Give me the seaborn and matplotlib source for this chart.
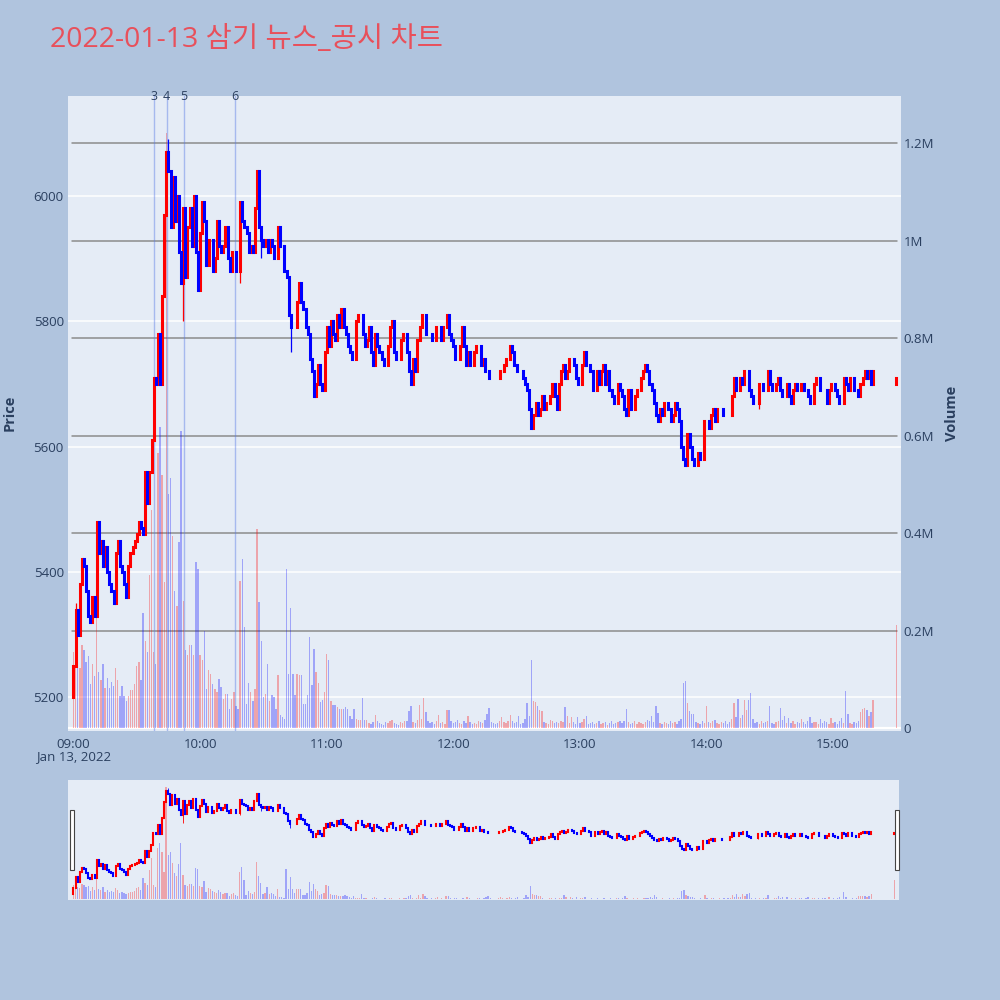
import numpy as np
import pandas as pd
import seaborn as sns
import matplotlib.pyplot as plt
import matplotlib.transforms as mtransforms
from matplotlib.patches import Rectangle

# chart data (1-minute candles from 09:00, plus the 15:30 closing auction)
TITLE = "2022-01-13 삼기 뉴스_공시 차트"
first_open = 5200
close_px = [
    5250, 5340, 5300, 5380, 5420, 5410, 5370, 5330, 5320, 5360,
    5330, 5480, 5430, 5450, 5410, 5440, 5400, 5380, 5370, 5350,
    5430, 5450, 5410, 5400, 5380, 5360, 5410, 5430, 5440, 5450,
    5460, 5480, 5470, 5460, 5560, 5510, 5560, 5610, 5710, 5700,
    5780, 5700, 5840, 5970, 6070, 6040, 5950, 6030, 5960, 6000,
    5910, 5860, 5980, 5870, 5950, 5980, 5920, 6000, 5910, 5850,
    5940, 5990, 5960, 5890, 5930, 5930, 5880, 5900, 5960, 5920,
    5910, 5920, 5950, 5900, 5880, 5910, 5910, 5880, 5880, 5990,
    5960, 5950, 5940, 5910, 5920, 5910, 5980, 6040, 5950, 5930,
    5920, 5930, 5910, 5930, 5920, 5900, 5900, 5950, 5920, 5920,
    5880, 5870, 5810, 5790, 5790, 5790, 5830, 5860, 5830, 5820,
    5790, 5780, 5740, 5720, 5680, 5700, 5730, 5700, 5690, 5750,
    5790, 5760, 5800, 5780, 5770, 5810, 5790, 5820, 5790, 5780,
    5760, 5750, 5740, 5740, 5800, 5810, 5810, 5780, 5760, 5770,
    5790, 5750, 5730, 5780, 5760, 5750, 5740, 5730, 5730, 5760,
    5790, 5800, 5750, 5740, 5740, 5770, 5780, 5780, 5750, 5720,
    5700, 5740, 5720, 5770, 5790, 5810, 5810, 5780, 5780, 5780,
    5770, 5770, 5790, 5790, 5770, 5790, 5790, 5810, 5780, 5770,
    5760, 5740, 5740, 5760, 5790, 5760, 5730, 5750, 5730, 5730,
    5750, 5760, 5760, 5730, 5740, 5720, 5720, 5710, 5710, 5710,
    5710, 5710, 5720, 5720, 5730, 5740, 5740, 5760, 5750, 5730,
    5720, 5720, 5720, 5710, 5700, 5690, 5660, 5630, 5650, 5670,
    5650, 5660, 5680, 5660, 5670, 5670, 5680, 5700, 5680, 5660,
    5700, 5720, 5730, 5710, 5720, 5740, 5740, 5730, 5710, 5700,
    5700, 5730, 5750, 5730, 5730, 5720, 5690, 5690, 5720, 5700,
    5720, 5730, 5700, 5720, 5690, 5680, 5670, 5670, 5700, 5690,
    5680, 5660, 5650, 5690, 5660, 5660, 5680, 5690, 5690, 5710,
    5720, 5730, 5720, 5700, 5690, 5670, 5650, 5640, 5660, 5650,
    5670, 5670, 5660, 5640, 5650, 5670, 5660, 5640, 5600, 5580,
    5570, 5620, 5600, 5580, 5570, 5570, 5590, 5580, 5580, 5640,
    5640, 5630, 5650, 5660, 5640, 5660, 5660, 5660, 5650, 5650,
    5650, 5650, 5680, 5710, 5690, 5690, 5710, 5700, 5720, 5720,
    5690, 5680, 5670, 5670, 5670, 5700, 5700, 5690, 5690, 5720,
    5700, 5690, 5690, 5700, 5710, 5690, 5680, 5680, 5700, 5680,
    5670, 5690, 5700, 5690, 5690, 5700, 5690, 5690, 5680, 5670,
    5670, 5700, 5710, 5710, 5690, 5690, 5690, 5670, 5690, 5700,
    5700, 5690, 5680, 5670, 5670, 5710, 5700, 5690, 5710, 5710,
    5690, 5690, 5680, 5700, 5710, 5720, 5710, 5720, 5700, 5720,
]
# volume in thousands of shares, same minutes as close_px
volume_k = [
    157, 140, 136, 124, 170, 161, 136, 149, 91, 132,
    107, 248, 115, 99, 132, 82, 103, 82, 95, 86,
    124, 99, 66, 86, 66, 57, 66, 78, 78, 91,
    128, 136, 99, 236, 178, 157, 315, 448, 157, 132,
    564, 618, 519, 300, 1220, 480, 514, 394, 282, 250,
    381, 610, 261, 161, 150, 170, 170, 150, 340, 327,
    150, 140, 199, 80, 120, 112, 90, 81, 75, 102,
    85, 60, 70, 70, 40, 60, 75, 45, 40, 302,
    348, 208, 50, 92, 75, 57, 80, 408, 259, 180,
    65, 70, 131, 57, 68, 65, 40, 109, 27, 24,
    20, 326, 112, 246, 112, 68, 112, 109, 109, 50,
    50, 68, 187, 88, 163, 116, 92, 54, 58, 75,
    153, 141, 57, 47, 47, 44, 40, 40, 40, 44,
    40, 26, 20, 40, 20, 17, 17, 63, 17, 17,
    10, 8, 12, 27, 15, 10, 8, 6, 12, 10,
    14, 18, 10, 8, 6, 12, 10, 14, 16, 35,
    45, 12, 10, 18, 47, 20, 63, 33, 14, 10,
    12, 8, 15, 27, 10, 12, 8, 38, 37, 14,
    10, 12, 18, 10, 8, 14, 10, 25, 12, 8,
    10, 8, 14, 12, 10, 18, 29, 42, 12, 10,
    8, 10, 14, 23, 12, 10, 16, 27, 14, 10,
    12, 25, 8, 10, 20, 52, 25, 141, 57, 54,
    45, 37, 36, 12, 10, 8, 18, 14, 10, 12,
    10, 14, 12, 44, 25, 10, 23, 12, 8, 23,
    10, 12, 20, 25, 8, 10, 12, 8, 10, 14,
    8, 10, 12, 6, 10, 14, 8, 10, 12, 16,
    10, 14, 39, 12, 8, 10, 14, 8, 12, 10,
    8, 12, 18, 14, 25, 12, 45, 31, 10, 8,
    12, 10, 8, 14, 10, 12, 8, 14, 20, 93,
    98, 52, 36, 30, 29, 12, 10, 8, 14, 10,
    45, 12, 10, 14, 18, 10, 8, 12, 10, 14,
    8, 12, 20, 51, 23, 61, 22, 27, 59, 37,
    59, 73, 20, 10, 12, 8, 14, 10, 12, 16,
    46, 10, 8, 12, 14, 42, 17, 25, 10, 22,
    10, 14, 8, 12, 10, 20, 12, 8, 14, 23,
    10, 12, 13, 8, 20, 10, 14, 12, 8, 22,
    10, 12, 8, 14, 22, 10, 77, 29, 10, 8,
    12, 10, 14, 33, 40, 42, 37, 25, 33, 59,
]
auction_time = "15:30"
auction_open, auction_close, auction_vol_k = 5700, 5710, 211

# visible wicks (minute index, low, high)
wick_t = [1, 45, 52, 79, 89, 103, 325]
wick_lo = [5250, 6040, 5800, 5860, 5900, 5750, 5660]
wick_hi = [5350, 6090, 5980, 5990, 5950, 5810, 5700]

news_labels = ["3", "4", "5", "6"]
news_times = ["09:38:10", "09:44:10", "09:52:25", "10:16:25"]

price_ticks = [5200, 5400, 5600, 5800, 6000]
vol_ticks = [0, 200e3, 400e3, 600e3, 800e3, 1000e3, 1200e3]
vol_tick_labels = ["0", "0.2M", "0.4M", "0.6M", "0.8M", "1M", "1.2M"]
hour_labels = ["09:00", "10:00", "11:00", "12:00", "13:00", "14:00", "15:00"]

# colours
FIG_BG = "#B0C4DE"
PLOT_BG = "#E5ECF6"
UP = "#FF0000"
DOWN = "#0000FF"
TEXT = "#2A3F5F"

sns.set_theme(style="white")
plt.rcParams['font.family'] = ['Open Sans', 'Noto Sans CJK KR', 'DejaVu Sans']


def hm(s):
    parts = [int(p) for p in s.split(":")]
    sec = parts[2] if len(parts) > 2 else 0
    return (parts[0] - 9) * 60 + parts[1] + sec / 60


t = list(range(len(close_px))) + [hm(auction_time)]
df = pd.DataFrame({
    "t": t,
    "o": [first_open] + close_px[:-1] + [auction_open],
    "c": close_px + [auction_close],
    "v": [v * 1000 for v in volume_k + [auction_vol_k]],
})
# plotly rule: a flat candle keeps the direction of the previous one
up, last = [], True
for o, c in zip(df.o, df.c):
    if c != o:
        last = c > o
    up.append(last)
df["up"] = up
df["lo"] = df[["o", "c"]].min(axis=1)
df["hi"] = df[["o", "c"]].max(axis=1)
wicks = pd.DataFrame({"t": wick_t, "lo": wick_lo, "hi": wick_hi})
wicks["up"] = df.loc[wick_t, "up"].values

XLIM = (-2.6, 392.2)
PLIM = (5146.3, 6159)
VLIM = (-5.5e3, 1.2963e6)


def box(x0, y0, x1, y1):
    return [x0 / 1000, 1 - y1 / 1000, (x1 - x0) / 1000, (y1 - y0) / 1000]


def draw(ax_v, ax_p, body_lw, wick_lw, bar_w):
    ax_v.bar(df.t, df.v, width=bar_w, color=np.where(df.up, UP, DOWN),
             alpha=0.3, linewidth=0, zorder=2)
    for flag, col in [(True, UP), (False, DOWN)]:
        w = wicks[wicks.up == flag]
        ax_p.vlines(w.t, w.lo, w.hi, color=col, lw=wick_lw, zorder=3)
        d = df[df.up == flag]
        lc = ax_p.vlines(d.t, d.lo, d.hi, color=col, lw=body_lw, zorder=3)
        lc.set_capstyle('projecting')
    for a in (ax_v, ax_p):
        a.set_xlim(*XLIM)
        for s in a.spines.values():
            s.set_visible(False)
    ax_v.set_ylim(*VLIM)
    ax_p.set_ylim(*PLIM)


fig = plt.figure(figsize=(10, 10), dpi=100, facecolor=FIG_BG)

# main chart
ax_vol = fig.add_axes(box(68, 96, 901, 731))
ax_vol.set_facecolor(PLOT_BG)
ax_px = ax_vol.twinx()

for p in price_ticks:
    f = (p - PLIM[0]) / (PLIM[1] - PLIM[0])
    ax_vol.plot([0, 1], [f, f], transform=ax_vol.transAxes, color="white", lw=1.1, zorder=1)
for v in vol_ticks[1:]:
    ax_vol.axhline(v, xmin=0.005, xmax=0.995, color="#8C8C8C", lw=1.1, zorder=1)
ax_vol.axhline(0, color="white", lw=1.6, zorder=1)

draw(ax_vol, ax_px, body_lw=2.2, wick_lw=0.9, bar_w=0.65)

trans = mtransforms.blended_transform_factory(ax_vol.transData, ax_vol.transAxes)
for lab, tm in zip(news_labels, news_times):
    x = hm(tm)
    ax_vol.axvline(x, color="#5B7BE6", alpha=0.45, lw=1.0, zorder=2.5)
    ax_vol.text(x, 1.0, lab, transform=trans, ha="center", va="center",
                fontsize=9, color=TEXT, zorder=5)

ax_vol.yaxis.tick_right()
ax_px.yaxis.tick_left()
ax_vol.set_yticks(vol_ticks, vol_tick_labels)
ax_px.set_yticks(price_ticks, [str(p) for p in price_ticks])
ax_vol.set_xticks([60 * i for i in range(len(hour_labels))], hour_labels)
ax_vol.tick_params(axis="y", length=0, pad=2, labelsize=9.5, labelcolor=TEXT)
ax_px.tick_params(axis="y", length=0, pad=3, labelsize=9.5, labelcolor=TEXT)
ax_vol.tick_params(axis="x", length=0, pad=5, labelsize=9.5, labelcolor=TEXT)
ax_px.grid(False)
ax_vol.grid(False)

fig.text(0.0735, 1 - 0.757, "Jan 13, 2022", ha="center", va="center", fontsize=9.5, color=TEXT)
fig.text(0.010, 1 - 0.413, "Price", rotation=90, ha="center", va="center",
         fontsize=10.5, fontweight="bold", color=TEXT)
fig.text(0.952, 1 - 0.413, "Volume", rotation=90, ha="center", va="center",
         fontsize=10.5, fontweight="bold", color=TEXT)
fig.text(0.050, 1 - 0.040, TITLE, ha="left", va="center", fontsize=20.5, color="#E8505B")

# range slider
sl_vol = fig.add_axes(box(68, 780, 899, 900))
sl_vol.set_facecolor(PLOT_BG)
sl_px = sl_vol.twinx()
draw(sl_vol, sl_px, body_lw=1.5, wick_lw=0.6, bar_w=0.6)
for a in (sl_vol, sl_px):
    a.set_xticks([])
    a.set_yticks([])
    a.grid(False)

for x0 in (69.5, 894.5):
    fig.patches.append(Rectangle((x0 / 1000, 1 - 870 / 1000), 4 / 1000, 60 / 1000,
                                 transform=fig.transFigure, facecolor="white",
                                 edgecolor="#444444", lw=0.8, zorder=10))

fig.savefig("out.png", dpi=100, facecolor=FIG_BG)
